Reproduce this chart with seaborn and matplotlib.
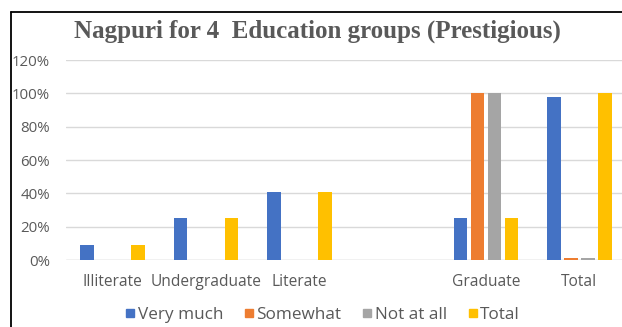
import matplotlib
matplotlib.use("Agg")
import matplotlib.pyplot as plt
import seaborn as sns
import pandas as pd
import numpy as np
from matplotlib.lines import Line2D

categories = ["Illiterate", "Undergraduate", "Literate", " ", "Graduate", "Total"]
series = ["Very much", "Somewhat", "Not at all", "Total"]
very_much = [0.09, 0.25, 0.41, np.nan, 0.25, 0.98]
somewhat = [0.0, 0.0, 0.0, np.nan, 1.00, 0.01]
not_at_all = [0.0, 0.0, 0.0, np.nan, 1.00, 0.01]
total = [0.09, 0.25, 0.41, np.nan, 0.25, 1.00]
colors = ["#4472C4", "#ED7D31", "#A5A5A5", "#FFC000"]
yticks = [0, 0.2, 0.4, 0.6, 0.8, 1.0, 1.2]
ytick_labels = ["0%", "20%", "40%", "60%", "80%", "100%", "120%"]

rows = []
for s, vals in zip(series, [very_much, somewhat, not_at_all, total]):
    for c, v in zip(categories, vals):
        rows.append({"cat": c, "series": s, "value": v})
df = pd.DataFrame(rows)

sns.set_theme(style="white")
plt.rcParams["font.family"] = ["Open Sans", "DejaVu Sans"]

fig = plt.figure(figsize=(6.22, 3.27), dpi=100)
ax = fig.add_axes([66 / 622, (327 - 260) / 327, 1 - 66 / 622, 200 / 327])

sns.barplot(data=df, x="cat", y="value", hue="series", order=categories,
            hue_order=series, palette=colors, width=0.73, gap=0.2,
            ax=ax, legend=False, saturation=1, linewidth=0)

ax.set_ylim(0, 1.2)
ax.set_xlim(-0.5, 5.5 - 4 / 93.3)
ax.set_yticks(yticks)
ax.set_yticklabels(ytick_labels)
ax.yaxis.grid(True, color="#D9D9D9", linewidth=1)
ax.set_axisbelow(True)
for sp in ax.spines.values():
    sp.set_visible(False)
ax.axhline(0, color="#D9D9D9", linewidth=1, zorder=0.5)
ax.set_xlabel("")
ax.set_ylabel("")
ax.tick_params(axis="y", length=0, pad=11.5, labelsize=10.8, labelcolor="#595959")
ax.tick_params(axis="x", length=0, pad=10, labelsize=11.2, labelcolor="#595959")

fig.text(317 / 622, 1 - 31 / 327, "Nagpuri for 4  Education groups (Prestigious)",
         ha="center", va="center", fontsize=18, fontweight="bold",
         family="Liberation Serif", color="#595959")

handles = [Line2D([0], [0], marker="s", linestyle="none", markersize=6,
                  markerfacecolor=c, markeredgecolor=c) for c in colors]
fig.legend(handles, series, loc="center", bbox_to_anchor=(322 / 622, 1 - 315 / 327),
           ncol=4, frameon=False, fontsize=12.3, labelcolor="#595959",
           handletextpad=0.1, columnspacing=1.15, handlelength=0.7)

# border lines (left and top)
fig.add_artist(Line2D([10.5 / 622, 10.5 / 622], [0, 1 - 12 / 327], color="black",
                      linewidth=1.3, transform=fig.transFigure))
fig.add_artist(Line2D([10.5 / 622, 1], [1 - 12 / 327, 1 - 12 / 327], color="black",
                      linewidth=1.3, transform=fig.transFigure))

fig.savefig("out.png", dpi=100)
